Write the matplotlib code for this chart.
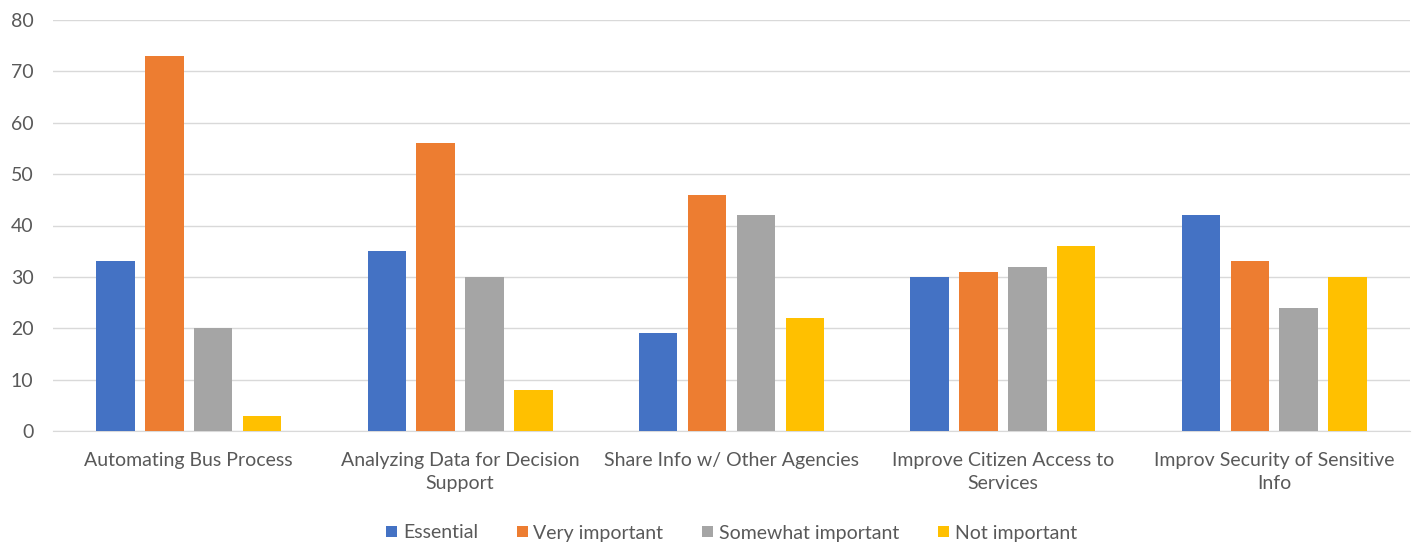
import matplotlib.pyplot as plt
import numpy as np

plt.rcParams['font.family'] = ['Lato', 'DejaVu Sans']

categories = ['Automating Bus Process',
              'Analyzing Data for Decision\nSupport',
              'Share Info w/ Other Agencies',
              'Improve Citizen Access to\nServices',
              'Improv Security of Sensitive\nInfo']
series_names = ['Essential', 'Very important', 'Somewhat important', 'Not important']
essential = [33, 35, 19, 30, 42]
very_important = [73, 56, 46, 31, 33]
somewhat_important = [20, 30, 42, 32, 24]
not_important = [3, 8, 22, 36, 30]
colors = ['#4472C4', '#ED7D31', '#A5A5A5', '#FFC000']

values = [essential, very_important, somewhat_important, not_important]

fig = plt.figure(figsize=(14.18, 5.5), dpi=100)
ax = fig.add_axes([53 / 1418, 1 - 431 / 550, (1410 - 53) / 1418, (431 - 20) / 550])

x = np.arange(len(categories))
width = 0.142
step = 0.18
for i, (name, vals, c) in enumerate(zip(series_names, values, colors)):
    ax.bar(x + (i - 1.5) * step, vals, width, color=c, label=name, zorder=3)

ax.set_xlim(-0.5, len(categories) - 0.5)
ax.set_ylim(0, 80)
ax.set_yticks(range(0, 81, 10))
ax.grid(axis='y', color='#D9D9D9', lw=1, zorder=0)
for s in ['top', 'right', 'left']:
    ax.spines[s].set_visible(False)
ax.spines['bottom'].set_color('#D9D9D9')
ax.tick_params(axis='both', length=0, colors='#595959', labelsize=14)
ax.tick_params(axis='y', pad=14)
ax.tick_params(axis='x', pad=15)
ax.set_xticks(x)
ax.set_xticklabels(categories, linespacing=1.45)

ax.legend(loc='center', bbox_to_anchor=(0.5, (1 - 533 / 550 - (1 - 431 / 550)) / ((431 - 20) / 550)),
          ncol=4, frameon=False, fontsize=14, handlelength=0.55, handleheight=0.55,
          handletextpad=0.3, columnspacing=2.0, labelcolor='#595959')

fig.savefig('out.png', dpi=100)
